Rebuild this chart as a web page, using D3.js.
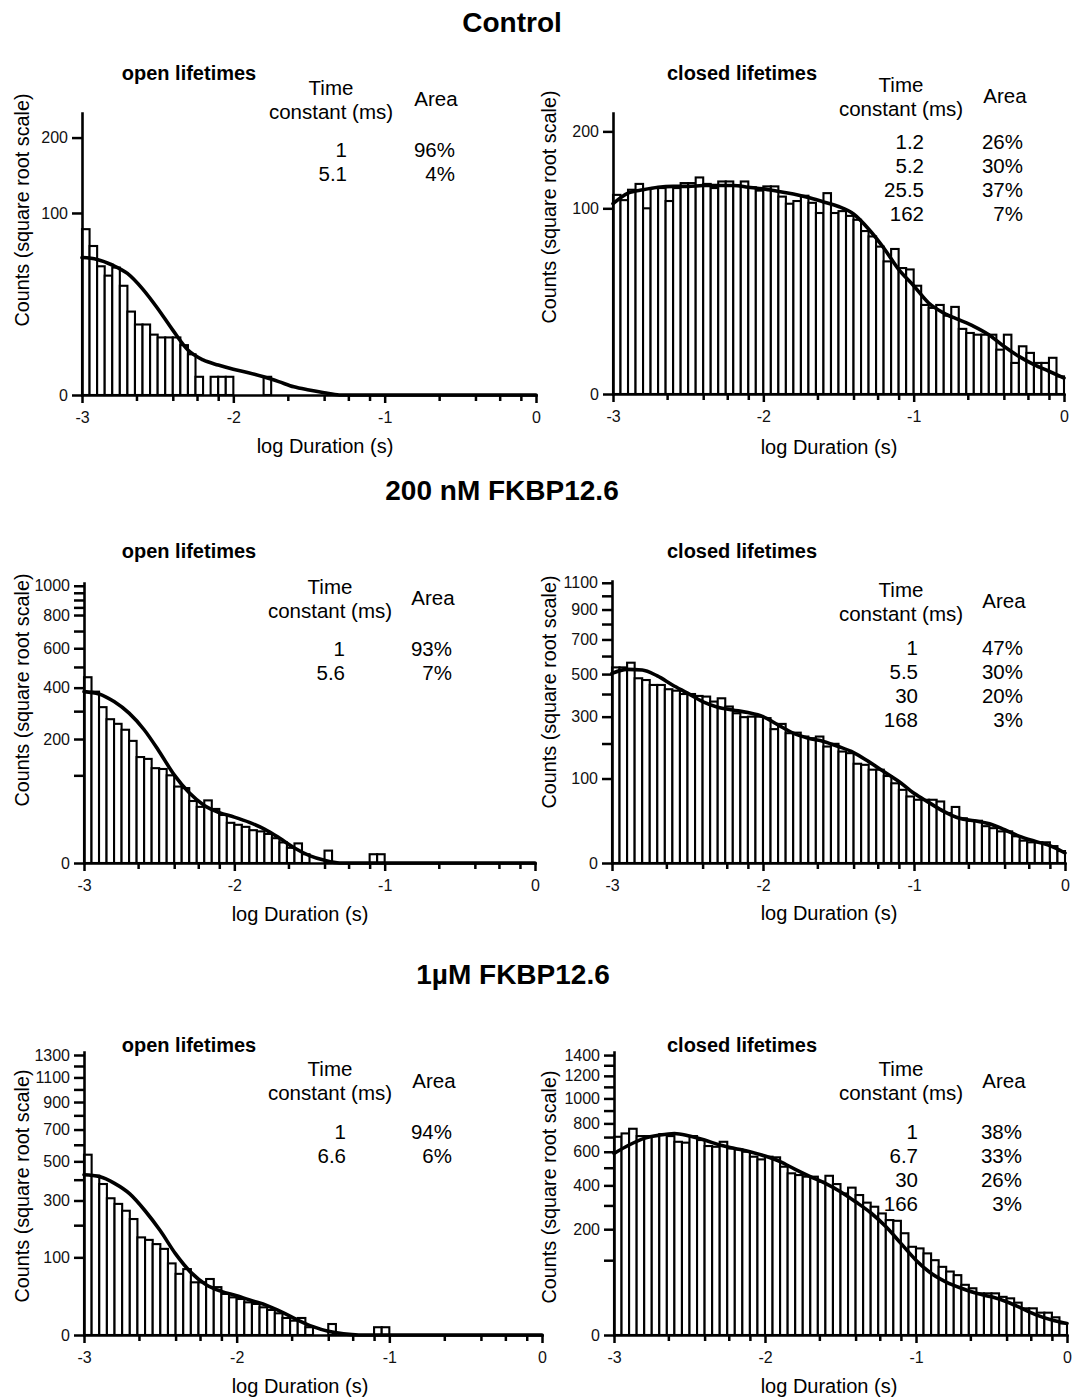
<!DOCTYPE html>
<html>
<head>
<meta charset="utf-8">
<script src="https://cdn.jsdelivr.net/npm/d3@7"></script>
<style>
  body { margin: 0; background: #fff; }
  svg { display: block; font-family: "Liberation Sans", Arial, sans-serif; }
</style>
</head>
<body>
<svg id="chart" width="1073" height="1398"></svg>
<script>
// ---- data ----
// histogram bins: 60 bins of 0.05 log units from -3 to 0
var binWidth = 0.05;
var binEdges = d3.range(60).map(function(i) { return -3 + i * binWidth; });

// x grid for the fitted curves
var fitX = [-3, -2.9, -2.8, -2.7, -2.6, -2.5, -2.4, -2.3, -2.2, -2.1, -2, -1.9, -1.8, -1.7, -1.6,
  -1.5, -1.4, -1.3, -1.2, -1.1, -1, -0.9, -0.8, -0.7, -0.6, -0.5, -0.4, -0.3, -0.2, -0.1, 0];

// Control
var controlOpen = [83, 67, 50, 43, 49, 36, 21, 15, 15, 11, 10, 10, 10, 7.5, 5, 1, 0, 1, 1, 1,
  0, 0, 0, 0, 1, 0, 0, 0, 0, 0, 0, 0, 0, 0, 0, 0, 0, 0, 0, 0,
  0, 0, 0, 0, 0, 0, 0, 0, 0, 0, 0, 0, 0, 0, 0, 0, 0, 0, 0, 0];
var controlOpenFit = [57, 55.5, 51, 44.6, 34, 22.6, 12.7, 6.1, 3.7, 2.7, 2, 1.5, 1, 0.54, 0.2,
  0.075, 0.016, 0, 0, 0, 0, 0, 0, 0, 0, 0, 0, 0, 0, 0, 0];
var controlClosed = [115, 109, 121, 128, 100, 123, 123, 108, 123, 129, 129, 136, 128, 123, 131, 131, 126, 131, 124, 120,
  125, 125, 113, 105, 108, 114, 106, 95, 117, 95, 97, 92, 88, 77, 72, 63, 51, 61, 46, 45,
  34, 23, 21.5, 23, 17.8, 22, 12.3, 10.8, 10.2, 10.2, 10.2, 5.7, 10.2, 2.8, 6.6, 4.9, 2.8, 2.8, 3.8, 0.9];
var controlClosedFit = [105, 117, 121, 124, 125, 125, 126, 126, 126, 124, 122, 119, 116, 112, 107,
  102, 94, 79, 62, 45, 34, 24, 19, 16, 13.3, 10.2, 6.6, 4.1, 2.5, 1.5, 0.74];

// 200 nM FKBP12.6
var nM200Open = [449, 382, 316, 269, 252, 231, 194, 146, 141, 117, 115, 100, 76, 73, 50, 41, 51, 38, 30, 21,
  19, 17, 14, 13, 11, 8, 5.5, 3, 5, 1, 0, 0, 2, 0, 0, 0, 0, 0, 1, 1,
  0, 0, 0, 0, 0, 0, 0, 0, 0, 0, 0, 0, 0, 0, 0, 0, 0, 0, 0, 0];
var nM200OpenFit = [382, 372, 339, 292, 231, 162, 101, 64, 43, 33, 27.4, 21.5, 15, 8.1, 2.9,
  0.7, 0.09, 0, 0, 0, 0, 0, 0, 0, 0, 0, 0, 0, 0, 0, 0];
var nM200Closed = [536, 536, 562, 478, 469, 444, 444, 423, 416, 400, 400, 391, 388, 365, 380, 343, 314, 298, 300, 300,
  294, 251, 271, 236, 238, 224, 218, 224, 190, 199, 174, 169, 138, 135, 122, 122, 106, 89, 75, 62,
  56, 56, 56, 53, 35, 44, 28, 25, 25, 19, 17, 14, 14, 10, 7, 6, 6, 6, 4, 2];
var nM200ClosedFit = [504, 525, 522, 490, 444, 404, 365, 340, 328, 317, 300, 267, 236, 218, 207,
  190, 171, 144, 117, 93, 68, 51, 37, 28, 25, 21.6, 15.5, 9.9, 6.6, 4.2, 1.4];

// 1 uM FKBP12.6
var uM1Open = [539, 421, 378, 310, 285, 256, 223, 158, 150, 137, 123, 85, 62, 72, 46, 46, 52, 38, 28, 23.5,
  21.5, 17.7, 16, 12.7, 10.4, 7.8, 4.8, 3.4, 4.8, 1, 0, 0, 2, 0, 0, 0, 0, 0, 1, 1,
  0, 0, 0, 0, 0, 0, 0, 0, 0, 0, 0, 0, 0, 0, 0, 0, 0, 0, 0, 0];
var uM1OpenFit = [426, 416, 381, 330, 256, 180, 109, 65, 42, 31.6, 25.6, 19.5, 14.3, 8.5, 3.7,
  1.15, 0.22, 0.02, 0, 0, 0, 0, 0, 0, 0, 0, 0, 0, 0, 0, 0];
var uM1Closed = [702, 726, 760, 707, 707, 707, 721, 707, 667, 661, 707, 679, 638, 633, 667, 622, 616, 600, 568, 551,
  568, 564, 506, 467, 457, 448, 448, 420, 453, 407, 358, 388, 350, 313, 294, 264, 236, 233, 185, 139,
  134, 119, 100, 83, 72, 64, 45, 39, 31, 31, 31, 26, 24, 18.7, 12.7, 12.7, 8.9, 8.9, 5.6, 2.4];
var uM1ClosedFit = [589, 645, 691, 714, 726, 707, 679, 645, 622, 600, 572, 537, 490, 448, 411,
  367, 317, 267, 210, 150, 100, 68, 50, 39, 31, 26, 19.8, 12.7, 7.1, 4, 2.4];

// fitted time constants and areas
var tauControlOpen = ["1", "5.1"], areaControlOpen = ["96%", "4%"];
var tauControlClosed = ["1.2", "5.2", "25.5", "162"], areaControlClosed = ["26%", "30%", "37%", "7%"];
var tau200Open = ["1", "5.6"], area200Open = ["93%", "7%"];
var tau200Closed = ["1", "5.5", "30", "168"], area200Closed = ["47%", "30%", "20%", "3%"];
var tau1Open = ["1", "6.6"], area1Open = ["94%", "6%"];
var tau1Closed = ["1", "6.7", "30", "166"], area1Closed = ["38%", "33%", "26%", "3%"];

// axis ticks
var xMajor = [-3, -2, -1, 0];
var xMinorOffsets = [0.36, 0.6, 0.76, 0.9]; // minor tick spots within a decade
var sectionTitles = ["Control", "200 nM FKBP12.6", "1\u00b5M FKBP12.6"];

// ---- layout ----
var font = '"Liberation Sans", Arial, sans-serif';
var svg = d3.select("#chart");
svg.append("rect").attr("width", 1073).attr("height", 1398).attr("fill", "#fff");

var panels = [
  { counts: controlOpen, fit: controlOpenFit, tau: tauControlOpen, area: areaControlOpen,
    title: "open lifetimes", titleX: 189, titleY: 73,
    x0: 82, x1: 536, yBase: 395, yTop: 113, yMax: 240,
    yTicks: [0, 100, 200], yLabels: [0, 100, 200],
    ylabX: 22, ylabY: 210, xlabX: 325, xlabY: 446,
    tab: { timeX: 331, timeY: 87, constY: 111, areaX: 436, areaY: 98, tauR: 347, areaR: 455, row0: 149 } },
  { counts: controlClosed, fit: controlClosedFit, tau: tauControlClosed, area: areaControlClosed,
    title: "closed lifetimes", titleX: 742, titleY: 73,
    x0: 613, x1: 1064, yBase: 394, yTop: 113, yMax: 229,
    yTicks: [0, 100, 200], yLabels: [0, 100, 200],
    ylabX: 549, ylabY: 207, xlabX: 829, xlabY: 447,
    tab: { timeX: 901, timeY: 84, constY: 108, areaX: 1005, areaY: 95, tauR: 924, areaR: 1023, row0: 141 } },
  { counts: nM200Open, fit: nM200OpenFit, tau: tau200Open, area: area200Open,
    title: "open lifetimes", titleX: 189, titleY: 551,
    x0: 84, x1: 535, yBase: 863, yTop: 583, yMax: 1020,
    yTicks: [0, 100, 200, 300, 400, 500, 600, 700, 800, 850, 900, 950, 1000], yLabels: [0, 200, 400, 600, 800, 1000],
    ylabX: 22, ylabY: 690, xlabX: 300, xlabY: 914,
    tab: { timeX: 330, timeY: 586, constY: 610, areaX: 433, areaY: 597, tauR: 345, areaR: 452, row0: 648 } },
  { counts: nM200Closed, fit: nM200ClosedFit, tau: tau200Closed, area: area200Closed,
    title: "closed lifetimes", titleX: 742, titleY: 551,
    x0: 612, x1: 1065, yBase: 863, yTop: 581, yMax: 1114,
    yTicks: d3.range(0, 1101, 100), yLabels: [0, 100, 300, 500, 700, 900, 1100],
    ylabX: 549, ylabY: 692, xlabX: 829, xlabY: 913,
    tab: { timeX: 901, timeY: 589, constY: 613, areaX: 1004, areaY: 600, tauR: 918, areaR: 1023, row0: 647 } },
  { counts: uM1Open, fit: uM1OpenFit, tau: tau1Open, area: area1Open,
    title: "open lifetimes", titleX: 189, titleY: 1045,
    x0: 84, x1: 542, yBase: 1335, yTop: 1052, yMax: 1328,
    yTicks: d3.range(0, 1301, 100), yLabels: [0, 100, 300, 500, 700, 900, 1100, 1300],
    ylabX: 22, ylabY: 1186, xlabX: 300, xlabY: 1386,
    tab: { timeX: 330, timeY: 1068, constY: 1092, areaX: 434, areaY: 1080, tauR: 346, areaR: 452, row0: 1131 } },
  { counts: uM1Closed, fit: uM1ClosedFit, tau: tau1Closed, area: area1Closed,
    title: "closed lifetimes", titleX: 742, titleY: 1045,
    x0: 614, x1: 1067, yBase: 1335, yTop: 1052, yMax: 1431,
    yTicks: d3.range(0, 1401, 100), yLabels: [0, 200, 400, 600, 800, 1000, 1200, 1400],
    ylabX: 549, ylabY: 1187, xlabX: 829, xlabY: 1386,
    tab: { timeX: 901, timeY: 1068, constY: 1092, areaX: 1004, areaY: 1080, tauR: 918, areaR: 1022, row0: 1131 } }
];

// section headings
var headPos = [[512, 22], [502, 490], [513, 974]];
sectionTitles.forEach(function(t, i) {
  svg.append("text")
    .attr("x", headPos[i][0]).attr("y", headPos[i][1])
    .attr("text-anchor", "middle").attr("dominant-baseline", "central")
    .attr("font-size", 28).attr("font-weight", "bold").attr("fill", "#000")
    .text(t);
});

panels.forEach(drawPanel);

function drawPanel(p) {
  var x = d3.scaleLinear().domain([-3, 0]).range([p.x0, p.x1]);
  var y = d3.scaleSqrt().domain([0, p.yMax]).range([p.yBase, p.yTop]);
  var g = svg.append("g");

  // bars
  var bins = p.counts.map(function(c, i) { return { edge: binEdges[i], c: c }; })
    .filter(function(d) { return d.c > 0; });
  g.append("g").selectAll("rect")
    .data(bins)
    .enter().append("rect")
      .attr("x", function(d) { return x(d.edge); })
      .attr("width", function(d) { return x(d.edge + binWidth) - x(d.edge); })
      .attr("y", function(d) { return y(d.c); })
      .attr("height", function(d) { return p.yBase - y(d.c); })
      .attr("fill", "#fff")
      .attr("stroke", "#000")
      .attr("stroke-width", 2.1);

  // fitted curve
  var line = d3.line()
    .x(function(d, i) { return x(fitX[i]); })
    .y(function(d) { return y(d); })
    .curve(d3.curveMonotoneX);
  g.append("path")
    .datum(p.fit)
    .attr("d", line)
    .attr("fill", "none")
    .attr("stroke", "#000")
    .attr("stroke-width", 3.6)
    .attr("stroke-linecap", "round")
    .attr("stroke-linejoin", "round");

  // y axis
  var yAxis = d3.axisLeft(y)
    .tickValues(p.yTicks)
    .tickFormat(function(d) { return p.yLabels.indexOf(d) >= 0 ? d : ""; })
    .tickSize(10).tickSizeOuter(0).tickPadding(4);
  var ya = g.append("g")
    .attr("transform", "translate(" + p.x0 + ",0)")
    .call(yAxis);
  styleAxis(ya);

  // x axis: minor then major
  var minor = [];
  [-3, -2, -1].forEach(function(dec) {
    xMinorOffsets.forEach(function(o) { minor.push(dec + o); });
  });
  var xm = g.append("g")
    .attr("transform", "translate(0," + p.yBase + ")")
    .call(d3.axisBottom(x).tickValues(minor).tickFormat("").tickSize(6).tickSizeOuter(0));
  xm.select(".domain").remove();
  xm.selectAll(".tick line").attr("stroke-width", 2.5);

  var xa = g.append("g")
    .attr("transform", "translate(0," + p.yBase + ")")
    .call(d3.axisBottom(x).tickValues(xMajor)
      .tickFormat(function(d) { return String(d); })
      .tickSize(8).tickSizeOuter(0).tickPadding(9));
  styleAxis(xa);

  // axis titles
  g.append("text")
    .attr("transform", "translate(" + p.ylabX + "," + p.ylabY + ") rotate(-90)")
    .attr("text-anchor", "middle").attr("dominant-baseline", "central")
    .attr("font-size", 19.8).attr("fill", "#000")
    .text("Counts (square root scale)");
  g.append("text")
    .attr("x", p.xlabX).attr("y", p.xlabY)
    .attr("text-anchor", "middle").attr("dominant-baseline", "central")
    .attr("font-size", 20).attr("fill", "#000")
    .text("log Duration (s)");

  // panel title
  g.append("text")
    .attr("x", p.titleX).attr("y", p.titleY)
    .attr("text-anchor", "middle").attr("dominant-baseline", "central")
    .attr("font-size", 20).attr("font-weight", "bold").attr("fill", "#000")
    .text(p.title);

  // table of time constants
  var t = p.tab;
  var hdr = [["Time", t.timeX, t.timeY], ["constant (ms)", t.timeX, t.constY], ["Area", t.areaX, t.areaY]];
  hdr.forEach(function(h) {
    g.append("text")
      .attr("x", h[1]).attr("y", h[2])
      .attr("text-anchor", "middle").attr("dominant-baseline", "central")
      .attr("font-size", 20.5).attr("fill", "#000")
      .text(h[0]);
  });
  g.selectAll(".tau").data(p.tau).enter().append("text")
    .attr("x", t.tauR).attr("y", function(d, i) { return t.row0 + i * 24; })
    .attr("text-anchor", "end").attr("dominant-baseline", "central")
    .attr("font-size", 20.5).attr("fill", "#000")
    .text(function(d) { return d; });
  g.selectAll(".area").data(p.area).enter().append("text")
    .attr("x", t.areaR).attr("y", function(d, i) { return t.row0 + i * 24; })
    .attr("text-anchor", "end").attr("dominant-baseline", "central")
    .attr("font-size", 20.5).attr("fill", "#000")
    .text(function(d) { return d; });
}

function styleAxis(sel) {
  sel.attr("font-family", font).attr("font-size", 16);
  sel.select(".domain").attr("stroke-width", 2.6).attr("stroke-linecap", "square");
  sel.selectAll(".tick line").attr("stroke-width", 2.5);
  sel.selectAll(".tick text").attr("fill", "#111");
}
</script>
</body>
</html>
